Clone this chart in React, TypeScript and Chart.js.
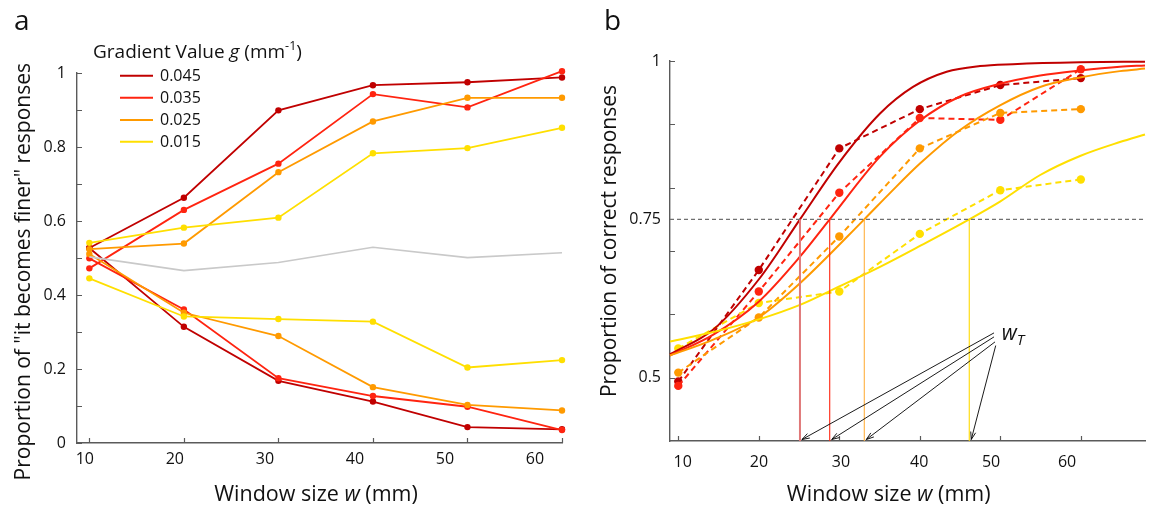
import React, { useEffect, useRef } from 'react';
import { Chart, registerables } from 'chart.js';

Chart.register(...registerables);

// ---------------- Data ----------------
const windowSizes = [10.5, 21, 31.5, 42, 52.5, 63];
const xTickLabelsA = [10, 20, 30, 40, 50, 60];
const xTickLabelsB = ['10', '20', '30', '40', '50', '60'];
const xTickLabelPosB = [11.07, 21.03, 31.72, 41.93, 51.29, 61.21];
const yTickLabelsA = [0, 0.2, 0.4, 0.6, 0.8, 1];
const yTickMarksA = [0, 0.1, 0.2, 0.3, 0.4, 0.5, 0.6, 0.7, 0.8, 0.9, 1];
const yTickLabelsB = [0.5, 0.75, 1];
const yTickMarksB = [0.5, 0.6, 0.7, 0.8, 0.9, 1];

const gradientLabels = ['0.045', '0.035', '0.025', '0.015'];
const gradientColors = ['#C00000', '#FF2410', '#FF9A00', '#FFDF00'];
const neutralColor = '#C9C9C9';

// Panel a: proportion of "it becomes finer" responses
const finerUp045 = [0.527, 0.663, 0.899, 0.967, 0.975, 0.988];
const finerUp035 = [0.472, 0.630, 0.755, 0.943, 0.907, 1.005];
const finerUp025 = [0.524, 0.539, 0.732, 0.869, 0.933, 0.933];
const finerUp015 = [0.541, 0.582, 0.609, 0.783, 0.797, 0.852];
const finerDown045 = [0.527, 0.314, 0.168, 0.112, 0.043, 0.037];
const finerDown035 = [0.499, 0.361, 0.175, 0.127, 0.098, 0.035];
const finerDown025 = [0.511, 0.352, 0.289, 0.151, 0.103, 0.088];
const finerDown015 = [0.445, 0.342, 0.335, 0.328, 0.204, 0.224];
const finerZero = [0.503, 0.466, 0.488, 0.529, 0.501, 0.514];

// Panel b: proportion of correct responses
const correct045 = [0.494, 0.670, 0.862, 0.924, 0.962, 0.973];
const correct035 = [0.487, 0.636, 0.792, 0.910, 0.907, 0.987];
const correct025 = [0.508, 0.595, 0.723, 0.862, 0.918, 0.924];
const correct015 = [0.546, 0.618, 0.636, 0.727, 0.796, 0.813];

// Panel b: fitted psychometric curves
const fit045X = [9.42, 15.07, 20.99, 26.37, 31.5, 36.81, 41.11, 45.5, 49.85, 54.15, 62.9, 71.37];
const fit045Y = [0.537, 0.576, 0.655, 0.75, 0.84, 0.917, 0.959, 0.983, 0.992, 0.995, 0.998, 0.999];
const fit035X = [9.42, 15.07, 20.99, 26.37, 30.25, 36.81, 42.02, 47.24, 52.46, 57.7, 62.9, 68.1, 71.37];
const fit035Y = [0.535, 0.568, 0.62, 0.691, 0.75, 0.849, 0.906, 0.944, 0.964, 0.977, 0.985, 0.991, 0.993];
const fit025X = [9.42, 15.07, 20.99, 26.37, 34.76, 38.07, 42.02, 47.24, 52.46, 57.7, 62.9, 68.1, 71.37];
const fit025Y = [0.535, 0.56, 0.595, 0.649, 0.75, 0.791, 0.838, 0.891, 0.93, 0.959, 0.974, 0.984, 0.988];
const fit015X = [9.42, 15.07, 20.99, 26.37, 31.5, 36.81, 42.02, 48.45, 52.46, 57.7, 62.9, 68.1, 71.37];
const fit015Y = [0.557, 0.572, 0.592, 0.615, 0.644, 0.675, 0.708, 0.75, 0.778, 0.82, 0.85, 0.872, 0.884];

const thresholdLevel = 0.75;
const thresholdW = [26.37, 30.25, 34.76, 48.45];
const thresholdLineColors = ['#E07878', '#FF2410', '#FFB040', '#FFDA00'];

// ---------------- Styling helpers ----------------
const FONT = "'Open Sans', 'DejaVu Sans', sans-serif";
const AXIS_COLOR = '#5a5a5a';
const TEXT_COLOR = '#111';

type Seg = { t: string; italic?: boolean; size: number; dy?: number };

function segWidth(ctx: CanvasRenderingContext2D, segs: Seg[]) {
  let w = 0;
  for (const s of segs) {
    ctx.font = `${s.italic ? 'italic ' : ''}${s.size}px ${FONT}`;
    w += ctx.measureText(s.t).width;
  }
  return w;
}

function drawSegs(ctx: CanvasRenderingContext2D, segs: Seg[], x: number, y: number, align: 'left' | 'center') {
  const total = segWidth(ctx, segs);
  let cx = align === 'center' ? x - total / 2 : x;
  ctx.textAlign = 'left';
  ctx.textBaseline = 'alphabetic';
  ctx.fillStyle = TEXT_COLOR;
  for (const s of segs) {
    ctx.font = `${s.italic ? 'italic ' : ''}${s.size}px ${FONT}`;
    ctx.fillText(s.t, cx, y + (s.dy || 0));
    cx += ctx.measureText(s.t).width;
  }
}

function drawRotatedTitle(ctx: CanvasRenderingContext2D, text: string, baseX: number, endY: number, size: number) {
  ctx.save();
  ctx.translate(baseX, endY);
  ctx.rotate(-Math.PI / 2);
  ctx.font = `${size}px ${FONT}`;
  ctx.fillStyle = TEXT_COLOR;
  ctx.textAlign = 'right';
  ctx.textBaseline = 'alphabetic';
  ctx.fillText(text, 0, 0);
  ctx.restore();
}

function drawInwardTicks(chart: any, xVals: number[], yVals: number[], len: number) {
  const ctx = chart.ctx as CanvasRenderingContext2D;
  const xs = chart.scales.x;
  const ys = chart.scales.y;
  ctx.save();
  ctx.strokeStyle = AXIS_COLOR;
  ctx.lineWidth = 1.2;
  ctx.beginPath();
  for (const v of xVals) {
    const px = Math.round(xs.getPixelForValue(v)) + 0.5;
    ctx.moveTo(px, ys.bottom);
    ctx.lineTo(px, ys.bottom - len);
  }
  for (const v of yVals) {
    const py = Math.round(ys.getPixelForValue(v)) + 0.5;
    ctx.moveTo(xs.left, py);
    ctx.lineTo(xs.left + len, py);
  }
  ctx.stroke();
  ctx.restore();
}

function scaleCfg(axis: 'x' | 'y', min: number, max: number, tickVals: number[], labelFn: any, fitSize: number, padding: number) {
  return {
    type: 'linear',
    min,
    max,
    grid: { display: false, drawTicks: false },
    border: { display: true, color: AXIS_COLOR, width: 1.4 },
    afterBuildTicks: (s: any) => {
      s.ticks = tickVals.map((v) => ({ value: v }));
    },
    afterFit: (s: any) => {
      if (axis === 'x') s.height = fitSize;
      else s.width = fitSize;
    },
    ticks: {
      autoSkip: false,
      maxRotation: 0,
      minRotation: 0,
      padding,
      color: TEXT_COLOR,
      font: { family: FONT, size: 16 },
      callback: labelFn,
    },
  };
}

const pts = (xs: number[], ys: number[]) => xs.map((x, i) => ({ x, y: ys[i] }));

// ---------------- Panel a ----------------
function buildPanelA(canvas: HTMLCanvasElement) {
  const upper = [finerUp045, finerUp035, finerUp025, finerUp015];
  const lower = [finerDown045, finerDown035, finerDown025, finerDown015];
  const datasets: any[] = [
    {
      label: 'g = 0',
      data: pts(windowSizes, finerZero),
      borderColor: neutralColor,
      borderWidth: 1.6,
      pointRadius: 0,
      clip: false,
    },
  ];
  for (let i = 3; i >= 0; i--) {
    for (const arr of [lower[i], upper[i]]) {
      datasets.push({
        label: gradientLabels[i],
        data: pts(windowSizes, arr),
        borderColor: gradientColors[i],
        backgroundColor: gradientColors[i],
        pointBackgroundColor: gradientColors[i],
        borderWidth: 1.8,
        pointRadius: 3.2,
        pointBorderWidth: 0,
        tension: 0,
        clip: false,
      });
    }
  }

  const decor = {
    id: 'decorA',
    afterDraw(chart: any) {
      const ctx = chart.ctx as CanvasRenderingContext2D;
      drawInwardTicks(chart, windowSizes, yTickMarksA, 5);
      ctx.save();
      ctx.font = `28px ${FONT}`;
      ctx.fillStyle = TEXT_COLOR;
      ctx.textAlign = 'left';
      ctx.textBaseline = 'alphabetic';
      ctx.fillText('a', 14, 30);
      drawSegs(ctx, [
        { t: 'Window size ', size: 21.5 },
        { t: 'w', italic: true, size: 21.5 },
        { t: ' (mm)', size: 21.5 },
      ], 316, 500.5, 'center');
      drawRotatedTitle(ctx, 'Proportion of "it becomes finer" responses', 29.5, 63, 21);
      drawSegs(ctx, [
        { t: 'Gradient Value ', size: 19 },
        { t: 'g', italic: true, size: 19 },
        { t: ' (mm', size: 19 },
        { t: '-1', size: 12.5, dy: -8 },
        { t: ')', size: 19 },
      ], 93, 57.5, 'left');
      const rows = [75.7, 97.7, 120, 141.7];
      gradientLabels.forEach((lab, i) => {
        ctx.strokeStyle = gradientColors[i];
        ctx.lineWidth = 2;
        ctx.beginPath();
        ctx.moveTo(120, rows[i]);
        ctx.lineTo(153, rows[i]);
        ctx.stroke();
        ctx.font = `16px ${FONT}`;
        ctx.fillStyle = TEXT_COLOR;
        ctx.textAlign = 'left';
        ctx.textBaseline = 'middle';
        ctx.fillText(lab, 160, rows[i] + 0.5);
      });
      ctx.restore();
    },
  };

  return new Chart(canvas, {
    type: 'line',
    data: { datasets },
    options: {
      responsive: false,
      animation: false,
      events: [],
      layout: { padding: { left: 0, top: 73, right: 28, bottom: 0 } },
      plugins: { legend: { display: false }, tooltip: { enabled: false } },
      scales: {
        x: scaleCfg('x', 9.13, 63, xTickLabelsA, (v: number) => String(v), 63, 7) as any,
        y: scaleCfg('y', 0, 1, yTickLabelsA, (v: number) => String(v), 77, 11) as any,
      },
    },
    plugins: [decor],
  });
}

// ---------------- Panel b ----------------
function buildPanelB(canvas: HTMLCanvasElement) {
  const xMin = 9.42;
  const xMax = 71.37;
  const fitsX = [fit045X, fit035X, fit025X, fit015X];
  const fitsY = [fit045Y, fit035Y, fit025Y, fit015Y];
  const observed = [correct045, correct035, correct025, correct015];
  const datasets: any[] = [];
  datasets.push({
    label: 'threshold',
    data: [{ x: xMin, y: thresholdLevel }, { x: xMax, y: thresholdLevel }],
    borderColor: '#707070',
    borderWidth: 1.2,
    borderDash: [4, 3],
    pointRadius: 0,
    clip: false,
  });
  thresholdW.forEach((w, i) => {
    datasets.push({
      label: 'wT ' + gradientLabels[i],
      data: [{ x: w, y: 0.4 }, { x: w, y: thresholdLevel }],
      borderColor: thresholdLineColors[i],
      borderWidth: i === 0 ? 2 : 1.1,
      pointRadius: 0,
      clip: false,
    });
  });
  for (let i = 3; i >= 0; i--) {
    datasets.push({
      label: 'fit ' + gradientLabels[i],
      data: pts(fitsX[i], fitsY[i]),
      borderColor: gradientColors[i],
      borderWidth: 2,
      pointRadius: 0,
      cubicInterpolationMode: 'monotone',
      clip: false,
    });
  }
  for (let i = 3; i >= 0; i--) {
    datasets.push({
      label: gradientLabels[i],
      data: pts(windowSizes, observed[i]),
      borderColor: gradientColors[i],
      backgroundColor: gradientColors[i],
      pointBackgroundColor: gradientColors[i],
      borderWidth: 2,
      borderDash: [6, 4],
      pointRadius: 4.2,
      pointBorderWidth: 0,
      tension: 0,
      clip: false,
    });
  }

  const arrowStartW = [51.68, 51.68, 51.81, 51.9];
  const arrowStartP = [0.5707, 0.5644, 0.5565, 0.5507];

  const decor = {
    id: 'decorB',
    afterDraw(chart: any) {
      const ctx = chart.ctx as CanvasRenderingContext2D;
      const xs = chart.scales.x;
      const ys = chart.scales.y;
      drawInwardTicks(chart, windowSizes, yTickMarksB, 5);
      ctx.save();
      ctx.font = `28px ${FONT}`;
      ctx.fillStyle = TEXT_COLOR;
      ctx.textAlign = 'left';
      ctx.textBaseline = 'alphabetic';
      ctx.fillText('b', 14, 30);
      drawSegs(ctx, [
        { t: 'Window size ', size: 21.5 },
        { t: 'w', italic: true, size: 21.5 },
        { t: ' (mm)', size: 21.5 },
      ], 298.7, 500.5, 'center');
      drawRotatedTitle(ctx, 'Proportion of correct responses', 26, 85, 21);

      const lx = xs.getPixelForValue(52.68);
      const ly = ys.getPixelForValue(0.5602);
      drawSegs(ctx, [
        { t: 'w', italic: true, size: 21 },
        { t: 'T', italic: true, size: 15, dy: 5 },
      ], lx, ly, 'left');

      ctx.strokeStyle = '#000';
      ctx.lineWidth = 0.9;
      thresholdW.forEach((w, i) => {
        const x0 = xs.getPixelForValue(arrowStartW[i]);
        const y0 = ys.getPixelForValue(arrowStartP[i]);
        const x1 = xs.getPixelForValue(w) + 2;
        const y1 = ys.bottom - 1.5;
        ctx.beginPath();
        ctx.moveTo(x0, y0);
        ctx.lineTo(x1, y1);
        const ang = Math.atan2(y1 - y0, x1 - x0);
        const hl = 8;
        const ha = 0.32;
        ctx.moveTo(x1 - hl * Math.cos(ang - ha), y1 - hl * Math.sin(ang - ha));
        ctx.lineTo(x1, y1);
        ctx.lineTo(x1 - hl * Math.cos(ang + ha), y1 - hl * Math.sin(ang + ha));
        ctx.stroke();
      });
      ctx.restore();
    },
  };

  return new Chart(canvas, {
    type: 'line',
    data: { datasets },
    options: {
      responsive: false,
      animation: false,
      events: [],
      layout: { padding: { left: 0, top: 61, right: 8, bottom: 0 } },
      plugins: { legend: { display: false }, tooltip: { enabled: false } },
      scales: {
        x: scaleCfg('x', xMin, xMax, xTickLabelPosB, (_v: number, i: number) => xTickLabelsB[i], 65, 12) as any,
        y: scaleCfg('y', 0.4, 1, yTickLabelsB, (v: number) => String(v), 80, 9) as any,
      },
    },
    plugins: [decor],
  });
}

export default function App() {
  const refA = useRef<HTMLCanvasElement | null>(null);
  const refB = useRef<HTMLCanvasElement | null>(null);

  useEffect(() => {
    const a = refA.current ? buildPanelA(refA.current) : null;
    const b = refB.current ? buildPanelB(refB.current) : null;
    return () => {
      if (a) a.destroy();
      if (b) b.destroy();
    };
  }, []);

  return (
    <div style={{ position: 'absolute', left: 0, top: 0, width: 1153, height: 506, background: '#fff', overflow: 'hidden' }}>
      <canvas ref={refA} width={590} height={506} style={{ position: 'absolute', left: 0, top: 0, width: 590, height: 506 }} />
      <canvas ref={refB} width={563} height={506} style={{ position: 'absolute', left: 590, top: 0, width: 563, height: 506 }} />
    </div>
  );
}
